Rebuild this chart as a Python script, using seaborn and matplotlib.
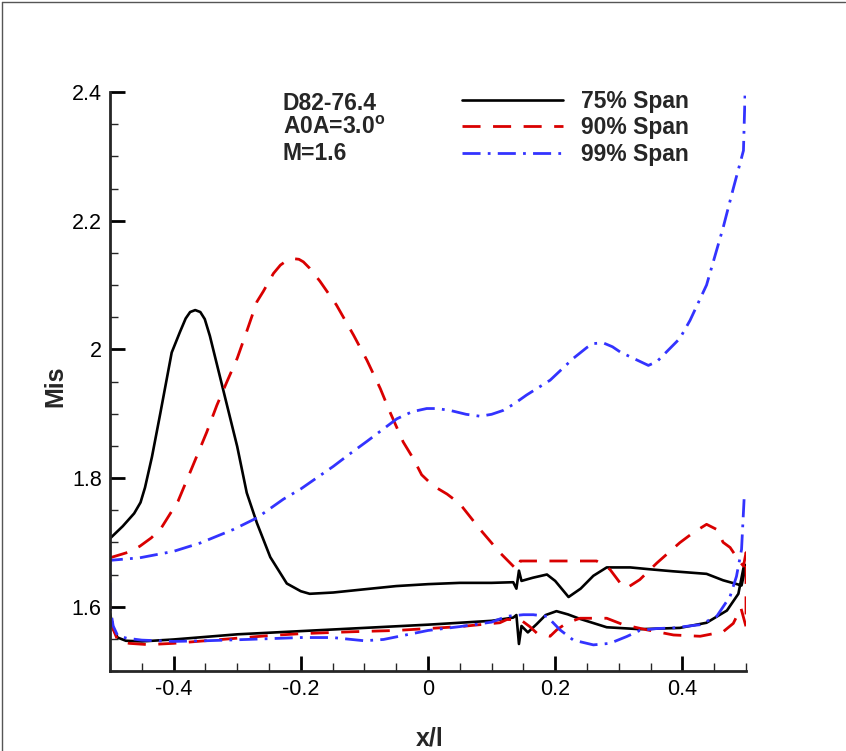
import numpy as np
import pandas as pd
import matplotlib
matplotlib.use("Agg")
import matplotlib.pyplot as plt
import seaborn as sns
from matplotlib.ticker import MultipleLocator, FuncFormatter
from matplotlib.lines import Line2D

# ---------------- data ----------------
labels = ["75% Span", "90% Span", "99% Span"]

# 75% span
b_up_x = [-0.5, -0.48, -0.462, -0.452, -0.445, -0.434, -0.421, -0.403, -0.39, -0.381, -0.374,
          -0.366, -0.358, -0.351, -0.343, -0.322, -0.30, -0.285, -0.269, -0.248, -0.222, -0.2,
          -0.186, -0.149, -0.1, -0.05, 0.0, 0.05, 0.1, 0.134, 0.139, 0.143, 0.147, 0.165, 0.187,
          0.2, 0.221, 0.24, 0.26, 0.281, 0.318, 0.35, 0.385, 0.438, 0.464, 0.493, 0.5]
b_up_y = [1.706, 1.725, 1.745, 1.762, 1.785, 1.833, 1.90, 1.995, 2.027, 2.048, 2.058,
          2.061, 2.058, 2.047, 2.021, 1.937, 1.849, 1.777, 1.73, 1.677, 1.636, 1.624,
          1.62, 1.622, 1.627, 1.632, 1.635, 1.637, 1.637, 1.638, 1.628, 1.656, 1.64, 1.645, 1.65,
          1.64, 1.615, 1.628, 1.648, 1.661, 1.661, 1.658, 1.655, 1.651, 1.641, 1.633, 1.665]
b_lo_x = [-0.5, -0.495, -0.488, -0.475, -0.45, -0.4, -0.35, -0.3, -0.2, -0.1, 0.0, 0.1, 0.134,
          0.139, 0.143, 0.147, 0.157, 0.171, 0.185, 0.202, 0.22, 0.239, 0.281, 0.333, 0.396,
          0.438, 0.47, 0.488, 0.496, 0.5]
b_lo_y = [1.59, 1.565, 1.552, 1.547, 1.546, 1.549, 1.553, 1.557, 1.562, 1.567, 1.572, 1.578, 1.583,
          1.587, 1.542, 1.57, 1.56, 1.573, 1.587, 1.593, 1.588, 1.581, 1.568, 1.565, 1.567,
          1.575, 1.594, 1.62, 1.66, 1.665]

# 90% span
r_up_x = [-0.5, -0.47, -0.453, -0.435, -0.419, -0.393, -0.374, -0.348, -0.332, -0.316, -0.30,
          -0.285, -0.269, -0.259, -0.243, -0.232, -0.222, -0.212, -0.203, -0.196, -0.186, -0.17,
          -0.144, -0.117, -0.096, -0.075, -0.06, -0.039, -0.023, -0.01, 0.008, 0.03, 0.05, 0.082,
          0.113, 0.135, 0.142, 0.145, 0.176, 0.228, 0.265, 0.286, 0.302, 0.3125, 0.333, 0.36,
          0.396, 0.417, 0.438, 0.454, 0.464, 0.475, 0.488, 0.496, 0.5]
r_up_y = [1.676, 1.685, 1.694, 1.707, 1.723, 1.764, 1.809, 1.871, 1.913, 1.95, 1.986,
          2.028, 2.074, 2.09, 2.118, 2.131, 2.138, 2.141, 2.140, 2.136, 2.126, 2.106,
          2.069, 2.022, 1.983, 1.939, 1.903, 1.856, 1.83, 1.805, 1.788, 1.775, 1.76, 1.72,
          1.684, 1.662, 1.658, 1.671, 1.671, 1.671, 1.671, 1.658, 1.637, 1.629, 1.642, 1.668,
          1.6995, 1.715, 1.728, 1.72, 1.70, 1.692, 1.673, 1.663, 1.684]
r_lo_x = [-0.5, -0.495, -0.488, -0.47, -0.44, -0.4, -0.35, -0.3, -0.25, -0.2, -0.12, -0.05, 0.0,
          0.05, 0.113, 0.124, 0.145, 0.16, 0.171, 0.192, 0.2025, 0.218, 0.239, 0.281, 0.307,
          0.344, 0.386, 0.428, 0.464, 0.48, 0.492, 0.5]
r_lo_y = [1.60, 1.565, 1.548, 1.543, 1.541, 1.543, 1.547, 1.551, 1.555, 1.558, 1.561, 1.563, 1.566,
          1.569, 1.575, 1.58, 1.58, 1.569, 1.559, 1.554, 1.564, 1.5745, 1.582, 1.582, 1.572,
          1.564, 1.556, 1.554, 1.561, 1.574, 1.598, 1.569]

# 99% span
c_up_x = [-0.5, -0.453, -0.4, -0.358, -0.306, -0.269, -0.2275, -0.2, -0.1855, -0.149, -0.125,
          -0.096, -0.049, -0.025, -0.002, 0.0137, 0.035, 0.06, 0.082, 0.1, 0.118, 0.135, 0.155,
          0.192, 0.2285, 0.25, 0.26, 0.2756, 0.29, 0.302, 0.323, 0.3465, 0.36, 0.375, 0.396,
          0.412, 0.438, 0.464, 0.48, 0.496, 0.5]
c_up_y = [1.672, 1.676, 1.686, 1.699, 1.72, 1.738, 1.767, 1.783, 1.793, 1.818, 1.836,
          1.857, 1.892, 1.903, 1.908, 1.908, 1.905, 1.899, 1.896, 1.899, 1.905, 1.915, 1.929,
          1.952, 1.986, 2.003, 2.009, 2.010, 2.004, 1.996, 1.986, 1.975, 1.981, 1.996, 2.017,
          2.045, 2.10, 2.189, 2.25, 2.309, 2.45]
c_lo_x = [-0.5, -0.495, -0.488, -0.474, -0.45, -0.4, -0.35, -0.286, -0.2, -0.15, -0.1, -0.07,
          -0.03, 0.0, 0.05, 0.1, 0.124, 0.15, 0.1655, 0.187, 0.2075, 0.2285, 0.26, 0.286,
          0.3125, 0.333, 0.36, 0.386, 0.428, 0.454, 0.475, 0.485, 0.493, 0.497]
c_lo_y = [1.60, 1.57, 1.555, 1.551, 1.548, 1.546, 1.547, 1.549, 1.552, 1.552, 1.547, 1.549,
          1.557, 1.563, 1.569, 1.576, 1.585, 1.5875, 1.5875, 1.585, 1.564, 1.548, 1.5406, 1.543,
          1.5536, 1.563, 1.566, 1.567, 1.572, 1.585, 1.616, 1.647, 1.689, 1.767]

# ---------------- styling ----------------
sns.set_style("ticks")
plt.rcParams["font.family"] = ["Liberation Sans", "DejaVu Sans"]
plt.rcParams["mathtext.fontset"] = "custom"
plt.rcParams["mathtext.rm"] = "Liberation Sans"
plt.rcParams["mathtext.bf"] = "Liberation Sans:bold"

fig = plt.figure(figsize=(8.46, 7.51), dpi=100)
ax = fig.add_axes([110 / 846, 1 - 671 / 751, 636 / 846, 579 / 751])

def loop_df(ux, uy, lx, ly):
    return pd.DataFrame({"x": list(ux) + list(lx)[::-1], "y": list(uy) + list(ly)[::-1]})

df_b = loop_df(b_up_x, b_up_y, b_lo_x, b_lo_y)
df_r = loop_df(r_up_x, r_up_y, r_lo_x, r_lo_y)
df_c = pd.DataFrame({"x": list(c_lo_x)[::-1] + list(c_up_x),
                     "y": list(c_lo_y)[::-1] + list(c_up_y)})

sns.lineplot(data=df_b, x="x", y="y", sort=False, estimator=None, ax=ax,
             color="black", lw=1.9, linestyle="-", label=labels[0])
sns.lineplot(data=df_r, x="x", y="y", sort=False, estimator=None, ax=ax,
             color="#d90000", lw=2.0, linestyle=(0, (6.5, 4.5)), label=labels[1])
sns.lineplot(data=df_c, x="x", y="y", sort=False, estimator=None, ax=ax,
             color="#3333ff", lw=2.0, linestyle=(0, (6.5, 2.6, 1.0, 2.6)), label=labels[2])

ax.set_xlim(-0.5, 0.5)
ax.set_ylim(1.5, 2.4)
ax.set_xlabel("")
ax.set_ylabel("")
for s in ["top", "right"]:
    ax.spines[s].set_visible(False)
for s in ["left", "bottom"]:
    ax.spines[s].set_linewidth(2.0)

ax.xaxis.set_major_locator(MultipleLocator(0.2))
ax.xaxis.set_minor_locator(MultipleLocator(0.05))
ax.yaxis.set_major_locator(MultipleLocator(0.2))
ax.yaxis.set_minor_locator(MultipleLocator(0.05))
fmt = FuncFormatter(lambda v, p: f"{round(v, 6) + 0:g}")
ax.xaxis.set_major_formatter(fmt)
ax.yaxis.set_major_formatter(fmt)
ax.tick_params(which="major", direction="in", length=11, width=2.0, labelsize=15.5, pad=6,
               colors="black")
ax.tick_params(which="minor", direction="in", length=6, width=1.0)

leg = ax.legend(loc="upper left", bbox_to_anchor=(0.553, 1.003), frameon=False,
                handlelength=4.4, handletextpad=0.8, labelspacing=0.14, borderpad=0,
                borderaxespad=0, prop={"weight": "bold", "size": 16.5})

fig.text(283 / 846, 1 - 103 / 751, "D82-76.4", weight="bold", size=16.5, va="center", ha="left")
fig.text(283 / 846, 1 - 128 / 751, r"A0A=3.0$^{\mathbf{o}}$", weight="bold", size=16.5,
         va="center", ha="left")
fig.text(283 / 846, 1 - 153 / 751, "M=1.6", weight="bold", size=16.5, va="center", ha="left")

fig.text(55 / 846, 1 - 386 / 751, "Mis", rotation=90, weight="bold", size=18,
         ha="center", va="center")
fig.text(430 / 846, 1 - 739 / 751, "x/l", weight="bold", size=18, ha="center", va="center")

# thin outer frame (top and left edges)
fig.add_artist(Line2D([0.002, 0.999], [0.997, 0.997], transform=fig.transFigure,
                      color="#555555", lw=1.0))
fig.add_artist(Line2D([0.0025, 0.0025], [0.0, 0.997], transform=fig.transFigure,
                      color="#555555", lw=1.0))

fig.savefig("out.png", dpi=100)
